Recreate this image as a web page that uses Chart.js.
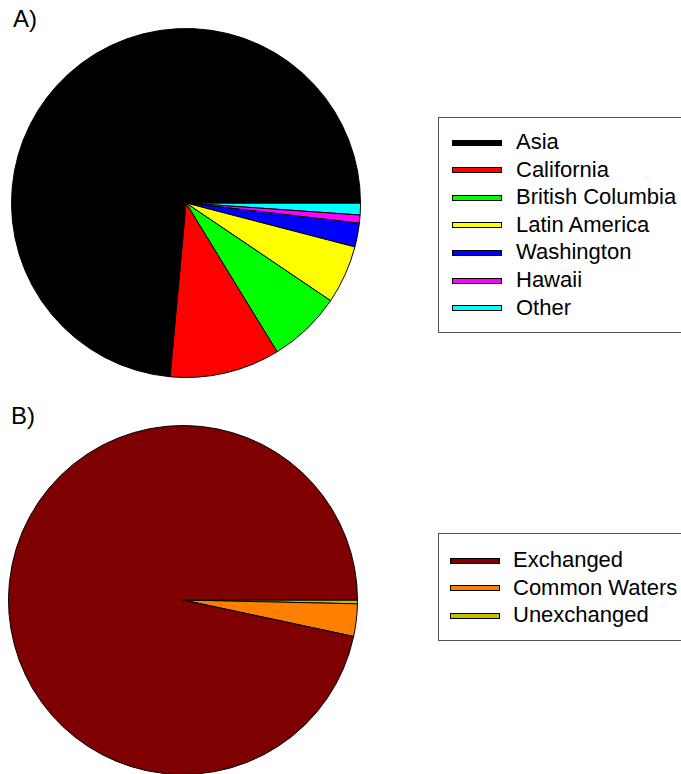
<!DOCTYPE html>
<html><head><meta charset="utf-8">
<script src="https://cdn.jsdelivr.net/npm/chart.js@4/dist/chart.umd.min.js"></script>
<style>
body{margin:0;background:#fff;width:681px;height:774px;overflow:hidden;position:relative;font-family:"Liberation Sans",Arial,Helvetica,sans-serif;color:#000;}
.title{position:absolute;font-size:24px;line-height:1;}
canvas{position:absolute;}
.legend{position:absolute;left:438px;width:300px;border:1px solid #555;box-sizing:border-box;}
.sw{position:absolute;width:50px;height:6px;border:1px solid #000;box-sizing:border-box;}
.lt{position:absolute;font-size:22px;line-height:1;white-space:nowrap;}
</style></head>
<body>
<div class="title" style="left:13px;top:7px;">A)</div>
<div class="title" style="left:11px;top:404px;">B)</div>
<canvas id="pieA" width="350" height="350" style="left:11px;top:28px;width:350px;height:350px;"></canvas>
<canvas id="pieB" width="350" height="350" style="left:8px;top:425px;width:350px;height:350px;"></canvas>
<div id="legA" class="legend" style="top:117px;height:216px;"></div>
<div id="legB" class="legend" style="top:533px;height:108px;"></div>
<script>
const regionLabels = ["Asia","California","British Columbia","Latin America","Washington","Hawaii","Other"];
const regionValues = [73.5, 10.2, 6.8, 5.4, 2.2, 0.75, 1.1];
const regionColors = ["#000000","#FF0000","#00FF00","#FFFF00","#0000FF","#FF00FF","#00FFFF"];

const statusLabels = ["Exchanged","Common Waters","Unexchanged"];
const statusValues = [96.6, 3.0, 0.35];
const statusColors = ["#7F0000","#FF8000","#BFBF00"];

function makePie(id, labels, values, colors){
  // reference runs counter-clockwise from 3 o'clock; Chart.js runs clockwise, so reverse
  const l = labels.slice().reverse(), v = values.slice().reverse(), c = colors.slice().reverse();
  new Chart(document.getElementById(id), {
    type: 'pie',
    data: { labels: l, datasets: [{ data: v, backgroundColor: c, borderColor: '#000', borderWidth: 1 }] },
    options: {
      responsive: false, animation: false, devicePixelRatio: 1, rotation: 90,
      layout: { padding: 0 },
      plugins: { legend: { display: false }, tooltip: { enabled: false } }
    }
  });
}
makePie('pieA', regionLabels, regionValues, regionColors);
makePie('pieB', statusLabels, statusValues, statusColors);

function makeLegend(id, labels, colors, firstY, swX, txtX){
  const el = document.getElementById(id);
  labels.forEach((lab, i) => {
    const cy = firstY + i * 27.6;
    const sw = document.createElement('div');
    sw.className = 'sw';
    sw.style.left = swX + 'px'; sw.style.top = (cy - 3) + 'px';
    sw.style.background = colors[i];
    el.appendChild(sw);
    const t = document.createElement('div');
    t.className = 'lt'; t.textContent = lab;
    t.style.left = txtX + 'px'; t.style.top = (cy - 11.5) + 'px';
    el.appendChild(t);
  });
}
makeLegend('legA', regionLabels, regionColors, 24.5, 13, 77);
makeLegend('legB', statusLabels, statusColors, 26.5, 11, 74);
</script>
</body></html>
